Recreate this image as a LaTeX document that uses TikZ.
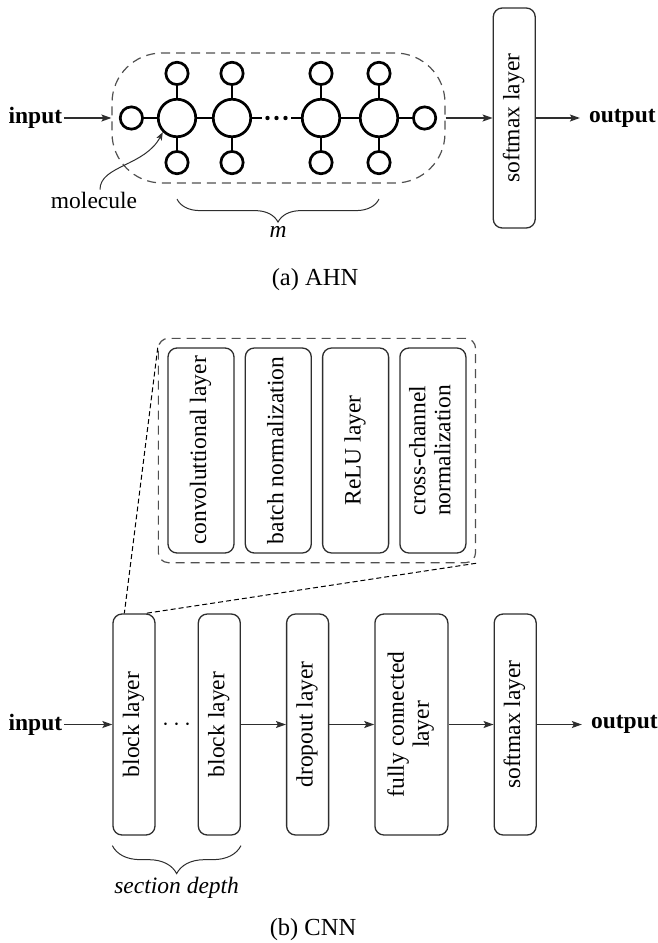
\documentclass[tikz,border=0pt]{standalone}
\usepackage{fontspec}
\setmainfont{Liberation Serif}
\usepackage{graphicx}
\usetikzlibrary{arrows.meta,positioning,fit,calc,decorations.pathreplacing}
\definecolor{linegray}{HTML}{2E2E2E}
\definecolor{dashgray}{HTML}{505050}
\newcommand{\vlabel}[1]{\rotatebox{90}{\begin{tabular}{@{}c@{}}#1\end{tabular}}}

\begin{document}
\begin{tikzpicture}[
  x=1pt, y=-1pt,
  font=\fontsize{23.5}{25}\selectfont,
  layer/.style={draw=linegray, line width=1.3pt, rounded corners=9pt, minimum width=42pt, minimum height=221pt, inner sep=0pt},
  sublayer/.style={layer, minimum width=66pt, minimum height=205pt},
  atom/.style={circle, draw=black, line width=2.7pt, fill=white, minimum size=37.5pt, inner sep=0pt},
  satom/.style={atom, minimum size=22.3pt},
  bond/.style={line width=2.7pt},
  tag/.style={inner sep=2pt},
  group/.style={draw=dashgray, line width=1.2pt, dash pattern=on 9pt off 6pt},
  arr/.style={-{Stealth[length=10pt, width=7pt, inset=2pt]}, line width=1.2pt, draw=linegray},
  thinarr/.style={-{Stealth[length=8pt, width=6pt, inset=2pt]}, line width=1pt, draw=linegray},
  brc/.style={decorate, decoration={brace, mirror, amplitude=#1}, line width=1pt, draw=linegray},
  zoomln/.style={line width=1pt, dash pattern=on 5pt off 3pt},
  node distance=12pt
]
\useasboundingbox (0,0) rectangle (657,943);
% (a) AHN
\node[atom] (c1) at (177,118) {};
\node[atom] (c2) at (232,118) {};
\node[atom] (c3) at (321,118) {};
\node[atom] (c4) at (379,118) {};
\foreach \a in {c1,c2,c3,c4} {
  \node[satom, above=of \a] (\a t) {};
  \node[satom, below=of \a] (\a b) {};
  \draw[bond] (\a) -- (\a t);
  \draw[bond] (\a) -- (\a b);
}
\node[satom, left=13pt of c1] (l0) {};
\node[satom, right=13pt of c4] (r0) {};
\node[inner sep=0pt, minimum width=29pt, minimum height=4pt] (dt) at (276.5,118) {};
\foreach \i in {-9,0,9}
  \fill ([xshift=\i pt]dt.center) circle (2.2pt);
\draw[bond] (l0) -- (c1);
\draw[bond] (c1) -- (c2);
\draw[bond] (c2) -- (dt);
\draw[bond] (dt) -- (c3);
\draw[bond] (c3) -- (c4);
\draw[bond] (c4) -- (r0);
\node[group, rounded corners=50pt, minimum width=333pt, minimum height=130pt] (grp) at (278.5,118) {};
\node[tag, left=47pt of grp] (in1) {\textbf{input}};
\node[layer, minimum height=220pt, right=47pt of grp] (smx1) {\vlabel{softmax layer}};
\node[tag, inner xsep=9pt, right=44pt of smx1] (out1) {\textbf{output}};
\draw[arr] (in1) -- (grp);
\draw[arr] (grp) -- (smx1);
\draw[arr] (smx1) -- (out1);
\node[tag] (mol) at (94,200) {molecule};
\draw[thinarr] ([xshift=6pt]mol.north) .. controls +(0,-24) and +(-18,34) .. (c1.south west);
\draw[brc=23pt] ([yshift=-24pt]c1b.south) -- ([yshift=-24pt]c4b.south);
\node (mlab) at (278,232) {\textit{m}};
\node[font=\fontsize{24.5}{26}\selectfont] (capa) at (315,280) {(a) AHN};
% (b) CNN
\node[layer] (blk1) at (134,724.5) {\vlabel{block layer}};
\node[layer, right=42pt of blk1] (blk2) {\vlabel{block layer}};
\node[layer, right=45pt of blk2] (drop) {\vlabel{dropout layer}};
\node[layer, minimum width=73pt, right=45pt of drop] (fc) {\vlabel{fully connected\\layer}};
\node[layer, right=45pt of fc] (smx2) {\vlabel{softmax layer}};
\node[tag, left=48pt of blk1] (in2) {\textbf{input}};
\node[tag, inner xsep=9pt, right=45pt of smx2] (out2) {\textbf{output}};
\node (bdots) at ($(blk1.east)!0.5!(blk2.west)$) {$\cdots$};
\draw[arr] (in2) -- (blk1);
\draw[arr] (blk2) -- (drop);
\draw[arr] (drop) -- (fc);
\draw[arr] (fc) -- (smx2);
\draw[arr] (smx2) -- (out2);
% inside of a block layer
\node[sublayer] (conv) at (201,450.5) {\vlabel{convoluttional layer}};
\node[sublayer, right=10pt of conv] (bn) {\vlabel{batch normalization}};
\node[sublayer, right=10pt of bn] (relu) {\vlabel{ReLU layer}};
\node[sublayer, right=10pt of relu] (ccn) {\vlabel{cross-channel\\normalization}};
\node[group, rounded corners=10pt, fit=(conv)(ccn), inner sep=9pt] (zoom) {};
\draw[zoomln] ([yshift=-10pt]zoom.north west) -- ([xshift=12pt]blk1.north west);
\draw[zoomln] (zoom.south east) -- ([xshift=-10pt]blk1.north east);
\draw[brc=28pt] ([yshift=-10pt]blk1.south west) -- ([yshift=-10pt]blk2.south east);
\node (sdep) at ($(blk1.south)!0.5!(blk2.south)+(0,52)$) {\textit{section depth}};
\node[font=\fontsize{24.5}{26}\selectfont] (capb) at (313,930) {(b) CNN};
\end{tikzpicture}
\end{document}
